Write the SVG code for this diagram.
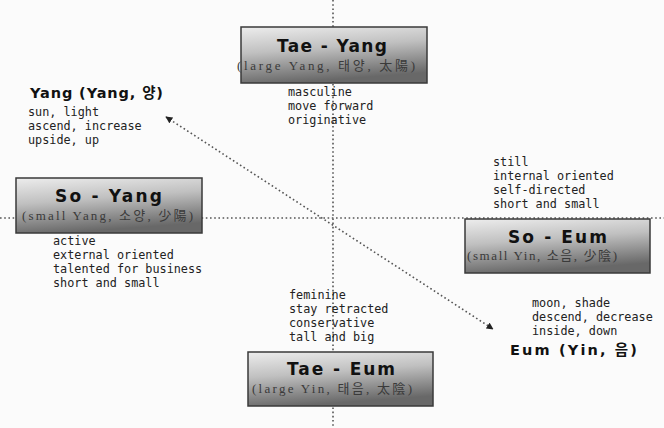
<svg xmlns="http://www.w3.org/2000/svg" width="664" height="428" viewBox="0 0 664 428">
<style>
.axis{stroke:#555;stroke-width:1.6;stroke-dasharray:1.6 2.6;fill:none}
.diag{stroke:#555;stroke-width:1.6;stroke-dasharray:1.6 2.6;fill:none}
.box{fill:url(#g);stroke:#3a3a3a;stroke-width:1.5}
.title{font-family:"DejaVu Sans","Liberation Sans",sans-serif;font-weight:bold;font-size:17px;fill:#111}
.sub{font-family:"Liberation Serif","Noto Sans CJK KR",serif;font-size:13px;fill:#3a3a3a}
.txt{font-family:"DejaVu Sans Mono","Liberation Mono","Noto Sans CJK KR",monospace;font-size:11.8px;fill:#222}
.big{font-family:"DejaVu Sans","Noto Sans CJK KR",sans-serif;font-weight:bold;font-size:14.5px;fill:#111}
</style>
<defs>
<linearGradient id="g" x1="0" y1="0" x2="0.25" y2="1">
<stop offset="0" stop-color="#ededed"/>
<stop offset="0.45" stop-color="#c0c0c0"/>
<stop offset="1" stop-color="#686868"/>
</linearGradient>
<marker id="ah" viewBox="0 0 10 10" refX="9" refY="5" markerWidth="7" markerHeight="7" orient="auto-start-reverse" markerUnits="userSpaceOnUse">
<path d="M0,0 L10,5 L0,10 Z" fill="#222"/>
</marker>
</defs>
<rect width="664" height="428" fill="#fbfbfb"/>
<g id="connectors">
<line class="axis" x1="333" y1="0" x2="333" y2="428"/>
<line class="axis" x1="0" y1="218" x2="664" y2="218"/>
<line class="diag" x1="166" y1="117" x2="493" y2="329" marker-start="url(#ah)" marker-end="url(#ah)"/>
</g>
<g id="tae-yang">
<rect class="box" x="241" y="27" width="186" height="56"/>
<text class="title" x="277" y="52" textLength="110" lengthAdjust="spacing">Tae - Yang</text>
<text class="sub" x="237" y="70" textLength="178" lengthAdjust="spacing">(large Yang, 태양, 太陽)</text>
<text class="txt" x="288" y="96">masculine</text>
<text class="txt" x="288" y="110">move forward</text>
<text class="txt" x="288" y="124">originative</text>
</g>
<g id="yang">
<text class="big" x="30" y="98" textLength="133" lengthAdjust="spacing">Yang (Yang, 양)</text>
<text class="txt" x="28" y="116">sun, light</text>
<text class="txt" x="28" y="130">ascend, increase</text>
<text class="txt" x="28" y="144">upside, up</text>
</g>
<g id="so-yang">
<rect class="box" x="16" y="178" width="186" height="55"/>
<text class="title" x="55" y="202" textLength="107" lengthAdjust="spacing">So - Yang</text>
<text class="sub" x="22" y="220" textLength="171" lengthAdjust="spacing">(small Yang, 소양, 少陽)</text>
<text class="txt" x="53" y="245">active</text>
<text class="txt" x="53" y="259">external oriented</text>
<text class="txt" x="53" y="273">talented for business</text>
<text class="txt" x="53" y="287">short and small</text>
</g>
<g id="so-eum">
<text class="txt" x="493" y="166">still</text>
<text class="txt" x="493" y="180">internal oriented</text>
<text class="txt" x="493" y="194">self-directed</text>
<text class="txt" x="493" y="208">short and small</text>
<rect class="box" x="465" y="219" width="185" height="54"/>
<text class="title" x="508" y="243" textLength="99" lengthAdjust="spacing">So - Eum</text>
<text class="sub" x="467" y="260" textLength="150" lengthAdjust="spacing">(small Yin, 소음, 少陰)</text>
</g>
<g id="tae-eum">
<text class="txt" x="289" y="299">feminine</text>
<text class="txt" x="289" y="313">stay retracted</text>
<text class="txt" x="289" y="327">conservative</text>
<text class="txt" x="289" y="341">tall and big</text>
<rect class="box" x="248" y="352" width="185" height="54"/>
<text class="title" x="287" y="375" textLength="108" lengthAdjust="spacing">Tae - Eum</text>
<text class="sub" x="252" y="393" textLength="160" lengthAdjust="spacing">(large Yin, 태음, 太陰)</text>
</g>
<g id="eum">
<text class="txt" x="532" y="307">moon, shade</text>
<text class="txt" x="532" y="321">descend, decrease</text>
<text class="txt" x="532" y="335">inside, down</text>
<text class="big" x="510" y="355" textLength="127" lengthAdjust="spacing">Eum (Yin, 음)</text>
</g>
</svg>
